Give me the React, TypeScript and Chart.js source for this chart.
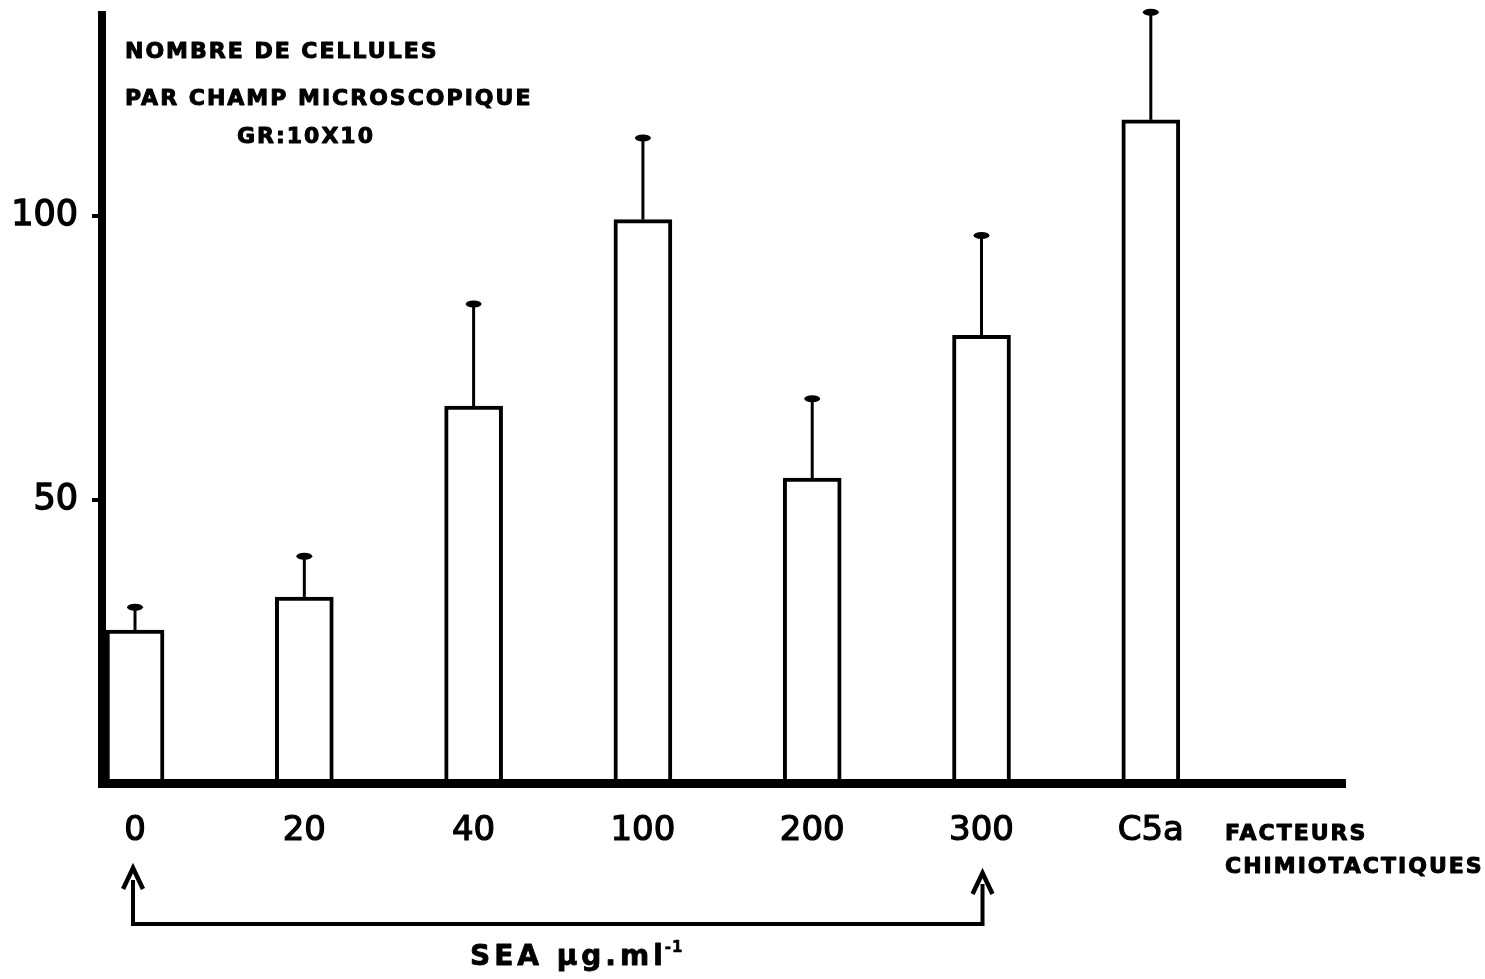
import React, { useEffect, useRef } from "react";
import { Chart, registerables } from "chart.js";

Chart.register(...registerables);

// Chemotactic factors on the x axis
const categories = ["0", "20", "40", "100", "200", "300", "C5a"];
// Mean number of cells per microscopic field
const cellCounts = [27, 32.8, 66.5, 99.4, 53.8, 79, 117];
// Upper error (added to the mean)
const errors = [4, 7.2, 18, 14.4, 14, 17.6, 19];
const yTickValues = [50, 100];
const yAxisCaption = ["NOMBRE DE CELLULES", "PAR CHAMP MICROSCOPIQUE", "GR:10X10"];
const xAxisCaption = ["FACTEURS", "CHIMIOTACTIQUES"];
// SEA bracket spans the categories from "0" to "300"
const seaSpan = [0, 5];
const seaLabel = "SEA \u00b5g.ml";
const seaExponent = "-1";

const INK = "#000";

const figurePlugin = {
  id: "figureAnnotations",
  afterDatasetsDraw(chart: any) {
    const ctx = chart.ctx as CanvasRenderingContext2D;
    const meta = chart.getDatasetMeta(0);
    const y = chart.scales.y;
    ctx.save();
    ctx.strokeStyle = INK;
    ctx.fillStyle = INK;
    ctx.lineWidth = 3;
    meta.data.forEach((bar: any, i: number) => {
      const top = y.getPixelForValue(cellCounts[i] + errors[i]);
      ctx.beginPath();
      ctx.moveTo(bar.x, bar.y);
      ctx.lineTo(bar.x, top);
      ctx.stroke();
      ctx.beginPath();
      ctx.ellipse(bar.x, top, 8, 3.5, 0, 0, Math.PI * 2);
      ctx.fill();
    });
    ctx.restore();
  },
  afterDraw(chart: any) {
    const ctx = chart.ctx as CanvasRenderingContext2D;
    const area = chart.chartArea;
    const x = chart.scales.x;
    ctx.save();
    ctx.fillStyle = INK;
    ctx.strokeStyle = INK;
    ctx.textAlign = "left";
    ctx.textBaseline = "alphabetic";
    ctx.lineJoin = "round";

    const heavyText = (t: string, tx: number, ty: number, weight: number) => {
      ctx.lineWidth = weight;
      ctx.strokeText(t, tx, ty);
      ctx.fillText(t, tx, ty);
    };

    // bottom-left corner where the two axis lines meet
    ctx.fillRect(area.left - 4, area.bottom - 4, 8, 8.5);

    // caption of the value axis
    ctx.font = "bold 22px 'DejaVu Sans'";
    (ctx as any).letterSpacing = "2px";
    heavyText(yAxisCaption[0], area.left + 23, 58, 1);
    heavyText(yAxisCaption[1], area.left + 23, 105, 1);
    heavyText(yAxisCaption[2], area.left + 135, 143, 1);

    // caption of the category axis
    heavyText(xAxisCaption[0], area.right - 120, area.bottom + 57, 1);
    heavyText(xAxisCaption[1], area.right - 120, area.bottom + 90, 1);

    // SEA bracket with arrows
    const left = x.getPixelForValue(seaSpan[0]) - 2;
    const right = x.getPixelForValue(seaSpan[1]) + 1;
    const base = area.bottom + 141;
    ctx.lineWidth = 4;
    ctx.lineJoin = "miter";
    ctx.lineCap = "square";
    ctx.beginPath();
    ctx.moveTo(left, base - 42);
    ctx.lineTo(left, base);
    ctx.lineTo(right, base);
    ctx.lineTo(right, base - 38);
    ctx.stroke();
    const arrowHead = (cx: number, tip: number) => {
      ctx.lineWidth = 4.5;
      ctx.beginPath();
      ctx.moveTo(cx - 9, tip + 19);
      ctx.lineTo(cx, tip);
      ctx.lineTo(cx + 9, tip + 19);
      ctx.stroke();
    };
    arrowHead(left, base - 56);
    arrowHead(right, base - 51);

    // SEA unit label
    ctx.lineJoin = "round";
    ctx.lineCap = "butt";
    ctx.font = "bold 28px 'DejaVu Sans'";
    (ctx as any).letterSpacing = "4px";
    heavyText(seaLabel, 470, base + 41, 0.8);
    const w = ctx.measureText(seaLabel).width;
    ctx.font = "bold 15px 'DejaVu Sans'";
    (ctx as any).letterSpacing = "1px";
    heavyText(seaExponent, 470 + w - 2, base + 28, 0.6);
    ctx.restore();
  },
};

export default function App() {
  const canvasRef = useRef<HTMLCanvasElement | null>(null);

  useEffect(() => {
    if (!canvasRef.current) return;
    const chart = new Chart(canvasRef.current, {
      type: "bar",
      data: {
        datasets: [
          {
            data: cellCounts.map((v, i) => ({ x: i, y: v })),
            backgroundColor: "#fff",
            borderColor: INK,
            borderWidth: 4,
            borderSkipped: "bottom",
            barThickness: 58,
          },
        ],
      },
      options: {
        animation: false,
        responsive: false,
        devicePixelRatio: 1,
        layout: { padding: { top: 15, right: 140, left: 0, bottom: 0 } },
        plugins: {
          legend: { display: false },
          tooltip: { enabled: false },
        },
        scales: {
          x: {
            type: "linear",
            offset: false,
            min: -0.195,
            max: 7.147,
            afterBuildTicks: (s: any) => {
              s.ticks = categories.map((_, i) => ({ value: i }));
            },
            afterFit: (s: any) => {
              s.height = 196;
              s.paddingLeft = 0;
              s.paddingRight = 0;
            },
            grid: { display: false, offset: false },
            border: { display: true, color: INK, width: 9, z: 1 },
            ticks: {
              autoSkip: false,
              maxRotation: 0,
              padding: 20,
              color: INK,
              textStrokeColor: INK,
              textStrokeWidth: 1.2,
              font: { family: "'DejaVu Sans'", size: 34 },
              callback: (v: any) => categories[v] ?? "",
            },
          },
          y: {
            min: 0,
            max: 135.5,
            afterBuildTicks: (s: any) => {
              s.ticks = yTickValues.map((v) => ({ value: v }));
            },
            afterFit: (s: any) => {
              s.width = 102;
              s.paddingTop = 0;
              s.paddingBottom = 0;
            },
            grid: {
              drawOnChartArea: false,
              drawTicks: true,
              tickLength: 10,
              lineWidth: 4,
              color: INK,
            },
            border: { display: true, color: INK, width: 8, z: 1 },
            ticks: {
              padding: 14,
              color: INK,
              textStrokeColor: INK,
              textStrokeWidth: 1.4,
              font: { family: "'DejaVu Sans'", size: 35 },
            },
          },
        },
      },
      plugins: [figurePlugin],
    });
    return () => chart.destroy();
  }, []);

  return (
    <div style={{ position: "absolute", left: 0, top: 0, width: 1485, height: 979, background: "#fff" }}>
      <canvas ref={canvasRef} width={1485} height={979} />
    </div>
  );
}
